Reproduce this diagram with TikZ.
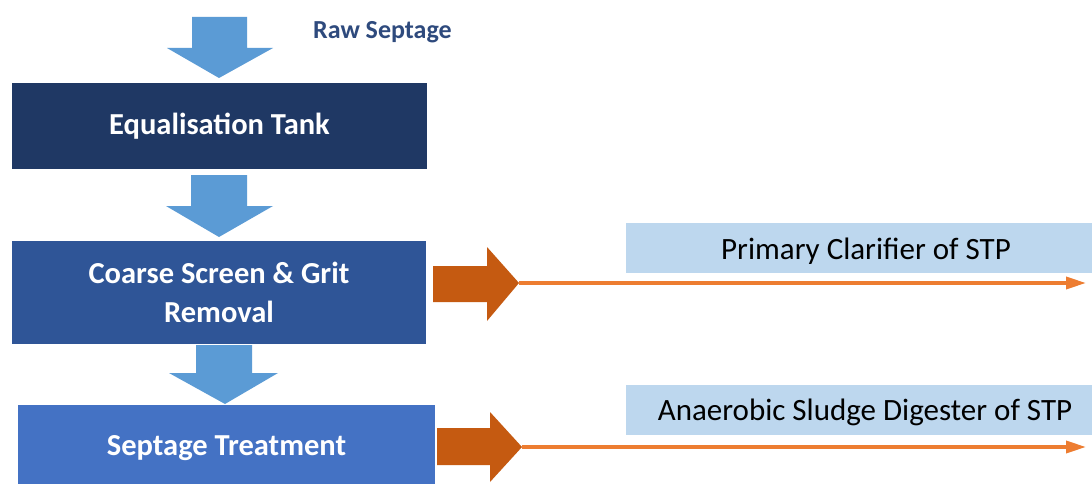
\documentclass[tikz,border=0pt]{standalone}
\usepackage{fontspec}
\setmainfont{Carlito}
\usetikzlibrary{arrows.meta}
\definecolor{navy}{HTML}{1F3864}
\definecolor{midblue}{HTML}{2F5597}
\definecolor{stdblue}{HTML}{4472C4}
\definecolor{arrowblue}{HTML}{5B9BD5}
\definecolor{paleblue}{HTML}{BDD7EE}
\definecolor{darkorange}{HTML}{C55A11}
\definecolor{lineorange}{HTML}{ED7D31}
\definecolor{labelblue}{HTML}{2E4A7D}
\tikzset{
  stagebox/.style={rectangle, inner sep=0pt, text=white, font=\fontsize{30.5}{39}\selectfont\bfseries, align=center},
  destbox/.style={rectangle, fill=paleblue, inner sep=0pt},
  desttext/.style={inner sep=0pt, text=black, font=\fontsize{31}{36}\selectfont},
  flowarrow/.style={fill=arrowblue},
  blockarrow/.style={fill=darkorange},
  thinarrow/.style={draw=lineorange, line width=3.5pt, -{Triangle[length=20pt,width=12pt]}},
}
\begin{document}
\begin{tikzpicture}[x=1pt,y=-1pt]
\useasboundingbox (0,0) rectangle (1092,484);
\clip (0,0) rectangle (1092,484);
\fill[white] (0,0) rectangle (1092,484);

% boxes
\node[stagebox, fill=navy, minimum width=415pt, minimum height=86pt] (eq) at (219.5,126) {Equalisation Tank};
\node[stagebox, fill=midblue, minimum width=414pt, minimum height=103pt] (cs) at (219,292.5) {Coarse Screen \& Grit\\Removal};
\node[stagebox, fill=stdblue, minimum width=417pt, minimum height=86pt] (st) at (226.5,448) {Septage Treatment};

\node[font=\fontsize{26}{30}\selectfont\bfseries, text=labelblue, anchor=west, inner sep=0pt] (raw) at (313,32) {Raw Septage};

\node[destbox, minimum width=480pt, minimum height=50pt, anchor=north west] (pc) at (626,223) {};
\node[desttext] (pct) at (866,251) {Primary Clarifier of STP};
\node[destbox, minimum width=480pt, minimum height=50pt, anchor=north west] (ad) at (626,385) {};
\node[desttext] (adt) at (865,412) {Anaerobic Sludge Digester of STP};

% blue flow arrows
\fill[flowarrow] (192,17) -- (247,17) -- (247,48) -- (273,48) -- (219,78) -- (167,48) -- (192,48) -- cycle;
\fill[flowarrow] (191,175) -- (247,175) -- (247,206) -- (273,206) -- (219,237) -- (166,206) -- (191,206) -- cycle;
\fill[flowarrow] (196,345) -- (252,345) -- (252,373) -- (278,373) -- (225,404) -- (169,373) -- (196,373) -- cycle;

% orange block arrows
\coordinate (tip1) at (519,283);
\coordinate (tip2) at (522,447);
\fill[blockarrow] (433,266) -- (487,266) -- (487,247) -- (tip1) -- (487,321) -- (487,302) -- (433,302) -- cycle;
\fill[blockarrow] (437,428) -- (490,428) -- (490,412) -- (tip2) -- (490,482) -- (490,465) -- (437,465) -- cycle;

\coordinate (end1) at (1086,283);
\coordinate (end2) at (1086,447);
\draw[thinarrow] (tip1) -- (end1);
\draw[thinarrow] (tip2) -- (end2);
\end{tikzpicture}
\end{document}
